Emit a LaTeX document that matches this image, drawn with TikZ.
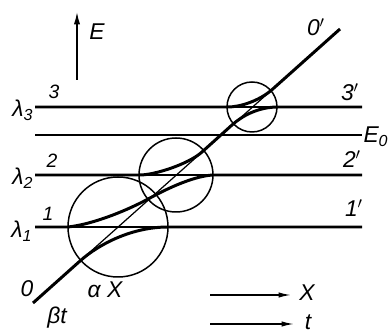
\documentclass[tikz,border=0pt]{standalone}
\usepackage{fontspec}
\setmainfont{Liberation Sans}
\usetikzlibrary{arrows.meta}

\begin{document}
\begin{tikzpicture}[x=0.02cm, y=-0.02cm,
    every node/.style={font=\fontsize{13}{15}\selectfont\itshape, inner sep=0pt},
    small/.style={font=\fontsize{11}{13}\selectfont\itshape},
    adiab/.style={line width=1.7pt},
    diab/.style={line width=0.7pt},
    ring/.style={line width=0.85pt}]
  \useasboundingbox (0,0) rectangle (388,333);
  % crossing points and line ends
  \coordinate (A) at (33,303);
  \coordinate (B) at (340,29);
  \coordinate (c1) at (118,227);
  \coordinate (c2) at (176,175);
  \coordinate (c3) at (252,107);
  \coordinate (l1) at (35,227);  \coordinate (r1) at (362,227);
  \coordinate (l2) at (35,175);  \coordinate (r2) at (362,175);
  \coordinate (l3) at (35,107);  \coordinate (r3) at (362,107);
  \coordinate (l0) at (35,135);  \coordinate (r0) at (362,135);
  % circles round the crossings
  \draw[ring] (c1) circle (50);
  \draw[ring] (c2) circle (37);
  \draw[ring] (c3) circle (25);
  % diabatic lines
  \draw[diab] (l0) -- (r0);
  \draw[diab] (80,261) -- (272,89.7);
  \draw[diab] (68,227) -- (168,227);
  \draw[diab] (140,175) -- (213,175);
  \draw[diab] (228,107) -- (278,107);
  % adiabatic curves
  \draw[adiab] (A) -- (80,261) .. controls (99,244) and (132,227) .. (168,227) -- (r1);
  \draw[adiab] (l1) -- (68,227) .. controls (95,224) and (130,209) .. (150,198)
    .. controls (170,187) and (195,176) .. (213,175) -- (r2);
  \draw[adiab] (l2) -- (140,175) .. controls (154,175) and (188,164.5) .. (202,152)
    -- (232,125) .. controls (242,116) and (258,107) .. (278,107) -- (r3);
  \draw[adiab] (l3) -- (228,107) .. controls (240,107) and (259,101) .. (272,89.7) -- (B);
  % axes
  \coordinate (e0) at (77,80);
  \coordinate (e1) at (77,12);
  \draw[line width=0.8pt, -{Latex[length=7pt,width=3.5pt]}] (e0) -- (e1);
  \node (E) at (97,32) {E};
  \coordinate (x0) at (210,295);
  \coordinate (x1) at (291,295);
  \draw[line width=0.8pt, -{Latex[length=7pt,width=3pt]}] (x0) -- (x1);
  \node (X) at (307,293) {X};
  \coordinate (t0) at (210,324);
  \coordinate (t1) at (294,324);
  \draw[line width=0.8pt, -{Latex[length=7pt,width=3pt]}] (t0) -- (t1);
  \node (t) at (308,322) {t};
  % labels
  \node (lam3) at (23,110) {λ\textsubscript{3}};
  \node (lam2) at (23,178) {λ\textsubscript{2}};
  \node (lam1) at (22,231) {λ\textsubscript{1}};
  \node[small] (n3) at (54,92) {3};
  \node[small] (n2) at (52,161) {2};
  \node[small] (n1) at (48,214) {1};
  \node (n0) at (27,289) {0};
  \node (bt) at (57,318) {βt};
  \node (aX) at (105,290) {α X};
  \node (n0p) at (316,27) {0$'$};
  \node (n3p) at (350,92) {3$'$};
  \node (E0) at (376,137) {E\textsubscript{0}};
  \node (n2p) at (352,159) {2$'$};
  \node (n1p) at (354,208) {1$'$};
\end{tikzpicture}
\end{document}
